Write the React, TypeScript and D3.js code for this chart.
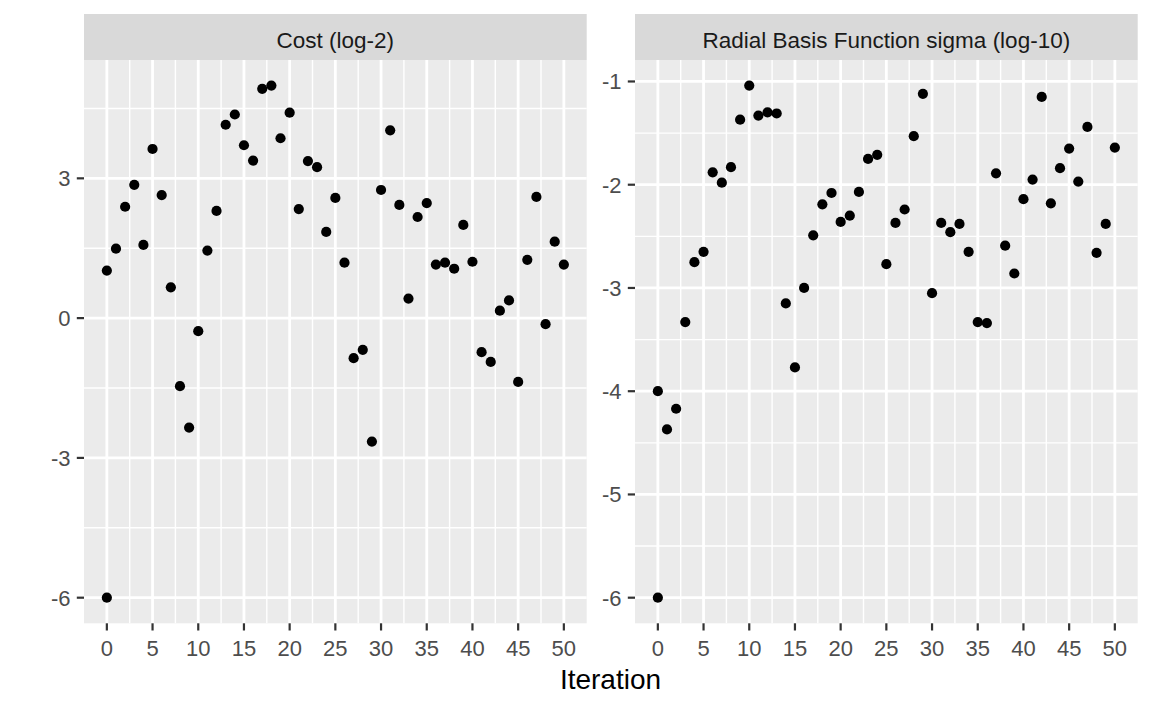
import React from "react";
import * as d3 from "d3";

const iterations = [0, 0, 1, 2, 3, 4, 5, 6, 7, 8, 9, 10, 11, 12, 13, 14, 15, 16, 17, 18, 19, 20, 21, 22, 23, 24, 25, 26, 27, 28, 29, 30, 31, 32, 33, 34, 35, 36, 37, 38, 39, 40, 41, 42, 43, 44, 45, 46, 47, 48, 49, 50];

const costLog2 = [1.02, -6.0, 1.49, 2.39, 2.86, 1.57, 3.63, 2.64, 0.66, -1.46, -2.35, -0.28, 1.45, 2.30, 4.15, 4.37, 3.71, 3.38, 4.92, 4.99, 3.86, 4.41, 2.34, 3.37, 3.24, 1.85, 2.58, 1.19, -0.86, -0.68, -2.65, 2.75, 4.03, 2.43, 0.42, 2.17, 2.47, 1.15, 1.19, 1.06, 2.0, 1.21, -0.73, -0.94, 0.16, 0.38, -1.37, 1.25, 2.6, -0.13, 1.64, 1.15];

const sigmaLog10 = [-4.0, -6.0, -4.37, -4.17, -3.33, -2.75, -2.65, -1.88, -1.98, -1.83, -1.37, -1.04, -1.33, -1.3, -1.31, -3.15, -3.77, -3.0, -2.49, -2.19, -2.08, -2.36, -2.3, -2.07, -1.75, -1.71, -2.77, -2.37, -2.24, -1.53, -1.12, -3.05, -2.37, -2.46, -2.38, -2.65, -3.33, -3.34, -1.89, -2.59, -2.86, -2.14, -1.95, -1.15, -2.18, -1.84, -1.65, -1.97, -1.44, -2.66, -2.38, -1.64];

const xTicks = [0, 5, 10, 15, 20, 25, 30, 35, 40, 45, 50];
const costTicks = [-6, -3, 0, 3];
const sigmaTicks = [-6, -5, -4, -3, -2, -1];

const panels = [
  { title: "Cost (log-2)", values: costLog2, ticks: costTicks, left: 84, right: 586.7 },
  { title: "Radial Basis Function sigma (log-10)", values: sigmaLog10, ticks: sigmaTicks, left: 635, right: 1137.7 },
];

const FONT = "'Liberation Sans', Arial, sans-serif";
const stripTop = 14;
const panelTop = 60;
const panelBottom = 623.3;

function Panel({ p }: { p: typeof panels[number] }) {
  const xExt = d3.extent(iterations) as [number, number];
  const xPad = (xExt[1] - xExt[0]) * 0.05;
  const x = d3.scaleLinear().domain([xExt[0] - xPad, xExt[1] + xPad]).range([p.left, p.right]);
  const yExt = d3.extent(p.values) as [number, number];
  const yPad = (yExt[1] - yExt[0]) * 0.05;
  const y = d3.scaleLinear().domain([yExt[0] - yPad, yExt[1] + yPad]).range([panelBottom, panelTop]);

  const step = p.ticks[1] - p.ticks[0];
  const yMinor: number[] = [];
  for (let i = 0; i < p.ticks.length + 1; i++) {
    const v = p.ticks[0] - step / 2 + i * step;
    const [d0, d1] = y.domain();
    if (v > d0 && v < d1) yMinor.push(v);
  }
  const xMinor: number[] = [];
  for (let i = 0; i < xTicks.length - 1; i++) xMinor.push((xTicks[i] + xTicks[i + 1]) / 2);

  const cx = (p.left + p.right) / 2;
  return (
    <g>
      <rect x={p.left} y={stripTop} width={p.right - p.left} height={panelTop - stripTop} fill="#D9D9D9" />
      <text x={cx} y={47.5} textAnchor="middle" fontFamily={FONT} fontSize={22.5} fill="#1A1A1A">
        {p.title}
      </text>
      <rect x={p.left} y={panelTop} width={p.right - p.left} height={panelBottom - panelTop} fill="#EBEBEB" />
      {yMinor.map((v) => (
        <line key={"ym" + v} x1={p.left} x2={p.right} y1={y(v)} y2={y(v)} stroke="#FFFFFF" strokeWidth={1.4} />
      ))}
      {xMinor.map((v) => (
        <line key={"xm" + v} x1={x(v)} x2={x(v)} y1={panelTop} y2={panelBottom} stroke="#FFFFFF" strokeWidth={1.4} />
      ))}
      {p.ticks.map((v) => (
        <line key={"yM" + v} x1={p.left} x2={p.right} y1={y(v)} y2={y(v)} stroke="#FFFFFF" strokeWidth={2.8} />
      ))}
      {xTicks.map((v) => (
        <line key={"xM" + v} x1={x(v)} x2={x(v)} y1={panelTop} y2={panelBottom} stroke="#FFFFFF" strokeWidth={2.8} />
      ))}
      {p.values.map((v, i) => (
        <circle key={"pt" + i} cx={x(iterations[i])} cy={y(v)} r={5.1} fill="#000000" />
      ))}
      {p.ticks.map((v) => (
        <g key={"yt" + v}>
          <line x1={p.left - 7.2} x2={p.left} y1={y(v)} y2={y(v)} stroke="#333333" strokeWidth={2.2} />
          <text x={p.left - 13.5} y={y(v)} dy="0.36em" textAnchor="end" fontFamily={FONT} fontSize={22} fill="#4D4D4D">
            {String(v).replace("\u2212", "-")}
          </text>
        </g>
      ))}
      {xTicks.map((v) => (
        <g key={"xt" + v}>
          <line x1={x(v)} x2={x(v)} y1={panelBottom} y2={panelBottom + 7.2} stroke="#333333" strokeWidth={2.2} />
          <text x={x(v)} y={656} textAnchor="middle" fontFamily={FONT} fontSize={22} fill="#4D4D4D">
            {v}
          </text>
        </g>
      ))}
    </g>
  );
}

export default function App() {
  return (
    <svg
      width={1152}
      height={711}
      viewBox="0 0 1152 711"
      style={{ position: "absolute", left: 0, top: 0, background: "#FFFFFF" }}
    >
      <rect x={0} y={0} width={1152} height={711} fill="#FFFFFF" />
      {panels.map((p) => (
        <Panel key={p.title} p={p} />
      ))}
      <text x={610.5} y={689} textAnchor="middle" fontFamily={FONT} fontSize={28} fill="#000000">
        Iteration
      </text>
    </svg>
  );
}
